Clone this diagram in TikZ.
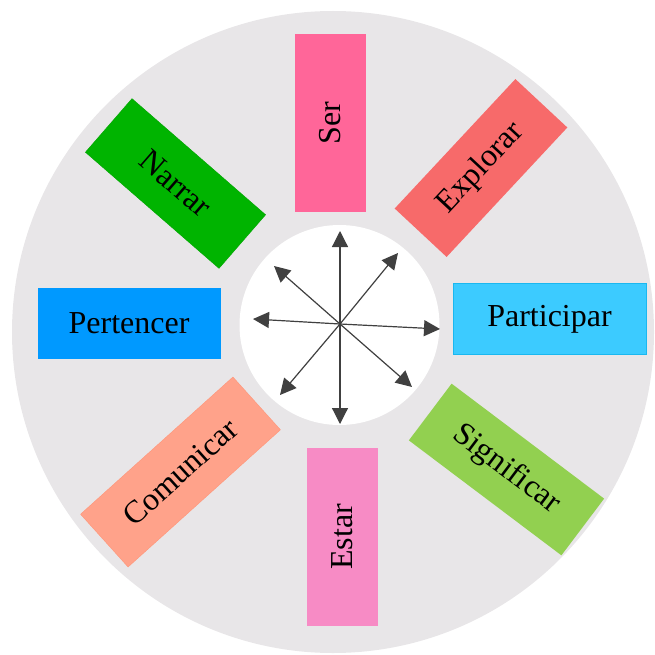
\documentclass[tikz,border=0pt]{standalone}
\usepackage{fontspec}
\setmainfont{Liberation Serif}
\usetikzlibrary{arrows.meta}

\definecolor{wheelgrey}{HTML}{E8E6E8}
\definecolor{serpink}{HTML}{FF6699}
\definecolor{explorared}{HTML}{F76A6A}
\definecolor{particyan}{HTML}{3CCBFF}
\definecolor{particedge}{HTML}{1AB8F0}
\definecolor{signgreen}{HTML}{92D050}
\definecolor{estarpink}{HTML}{F78BC5}
\definecolor{comsalmon}{HTML}{FFA28A}
\definecolor{comedge}{HTML}{FF9577}
\definecolor{pertblue}{HTML}{0099FF}
\definecolor{narrgreen}{HTML}{00B400}
\definecolor{narredge}{HTML}{00A300}
\definecolor{arrowgrey}{HTML}{404040}

\tikzset{
  verb/.style={inner sep=0pt, minimum height=71, font=\fontsize{32}{38}\selectfont, text=black},
  spoke/.style={draw=arrowgrey, line width=1.2pt, -{Triangle[length=16pt,width=16pt]}}
}

\begin{document}
\begin{tikzpicture}[x=1pt,y=-1pt]
                \useasboundingbox (0,0) rectangle (654,655);
                \fill[wheelgrey] (333,332) circle (321);
                \fill[white] (339.5,325) circle (100);

                \node (ser) at (330.5,123) [verb, fill=serpink, minimum width=178, rotate=90] {Ser};
                \node (explorar) at (481,168) [verb, fill=explorared, minimum width=177, rotate=47] {Explorar};
                \node (participar) at (549.5,319) [verb, fill=particyan, draw=particedge, minimum width=193] {Participar};
                \node (significar) at (506.5,469.5) [verb, fill=signgreen, minimum width=191, rotate=-37] {Significar};
                \node (estar) at (342,537) [verb, fill=estarpink, minimum width=178, rotate=90] {Estar};
                \node (comunicar) at (180.5,472) [verb, fill=comsalmon, draw=comedge, minimum width=205, rotate=42] {Comunicar};
                \node (pertencer) at (129,323) [verb, fill=pertblue, minimum width=183] {Pertencer};
                \node (narrar) at (175.5,183.5) [verb, fill=narrgreen, draw=narredge, minimum width=177, rotate=-41] {Narrar};

                \coordinate (hub) at (340,324);
                \coordinate (n) at (340,231);
                \coordinate (ne) at (398,253);
                \coordinate (e) at (440,329);
                \coordinate (se) at (412,387);
                \coordinate (s) at (340,424);
                \coordinate (sw) at (280,395);
                \coordinate (w) at (253,319);
                \coordinate (nw) at (274,266);

                \foreach \tip in {n,ne,e,se,s,sw,w,nw}
                    \draw[spoke] (hub) -- (\tip);
            \end{tikzpicture}
\end{document}
